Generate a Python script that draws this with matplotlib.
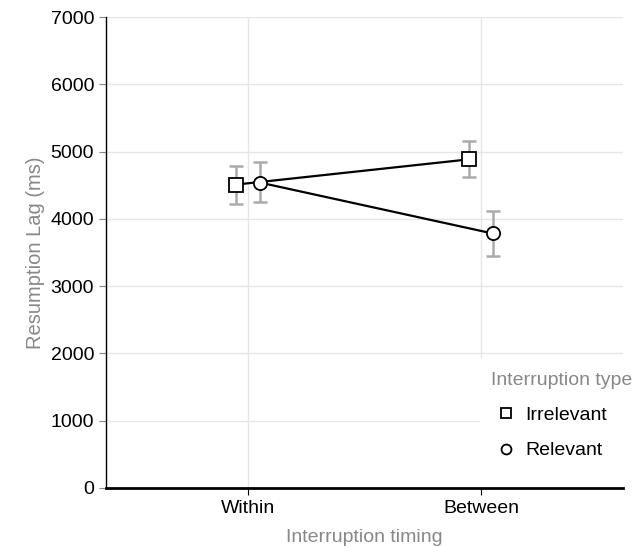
import numpy as np
import matplotlib.pyplot as plt
from matplotlib.patches import Rectangle

plt.rcParams['font.family'] = ['Liberation Sans', 'DejaVu Sans']

timing = ['Within', 'Between']
types = ['Irrelevant', 'Relevant']
markers = {'Irrelevant': 's', 'Relevant': 'o'}
means = {'Irrelevant': [4510, 4885], 'Relevant': [4540, 3783]}
lower = {'Irrelevant': [4220, 4617], 'Relevant': [4245, 3455]}
upper = {'Irrelevant': [4790, 5150], 'Relevant': [4840, 4110]}
dodge = {'Irrelevant': -0.05, 'Relevant': 0.05}

fig = plt.figure(figsize=(6.42, 5.46), dpi=100)
ax = fig.add_axes([106/642, 1 - 488/546, 517/642, 471/546])

x = np.arange(1, len(timing) + 1)
for t in types:
    xs = x + dodge[t]
    m = np.array(means[t])
    err = [m - np.array(lower[t]), np.array(upper[t]) - m]
    ax.errorbar(xs, m, yerr=err, fmt='none', ecolor='#aaaaaa', elinewidth=1.8,
                capsize=5, capthick=1.8, zorder=2)
    ax.plot(xs, m, color='black', linewidth=1.6, zorder=3)
    ax.plot(xs, m, linestyle='none', marker=markers[t], markersize=9.5,
            markerfacecolor='white', markeredgecolor='black', markeredgewidth=1.3,
            zorder=4, label=t)

ax.set_xlim(0.39, 2.61)
ax.set_ylim(0, 7000)
ax.set_yticks(np.arange(0, 7001, 1000))
ax.set_xticks(x)
ax.set_xticklabels(timing)

ax.grid(True, color='#e6e6e6', linewidth=1)
ax.set_axisbelow(True)
for s in ['top', 'right']:
    ax.spines[s].set_visible(False)
ax.spines['left'].set_linewidth(1)
ax.spines['bottom'].set_linewidth(2)
ax.tick_params(axis='y', colors='#888888', labelcolor='black', labelsize=14, length=5)
ax.tick_params(axis='x', colors='black', labelsize=14, length=5)

ax.set_xlabel('Interruption timing', fontsize=14, color='#888888', labelpad=9)
ax.set_ylabel('Resumption Lag (ms)', fontsize=14.5, color='#888888', labelpad=4)

# white area behind the legend hides the grid there
ax.add_patch(Rectangle((0.723, 0.0), 0.3, 0.276, transform=ax.transAxes,
                       facecolor='white', edgecolor='none', zorder=1, clip_on=False))

leg = ax.legend(title='Interruption type', loc='upper left', bbox_to_anchor=(0.714, 0.279),
                frameon=False, fontsize=14, title_fontsize=14, handletextpad=0.2,
                labelspacing=0.9, borderpad=0.3, markerscale=0.75, handlelength=1.6)
leg.get_title().set_color('#888888')
leg._legend_box.align = 'left'

plt.savefig('out.png', dpi=100)
